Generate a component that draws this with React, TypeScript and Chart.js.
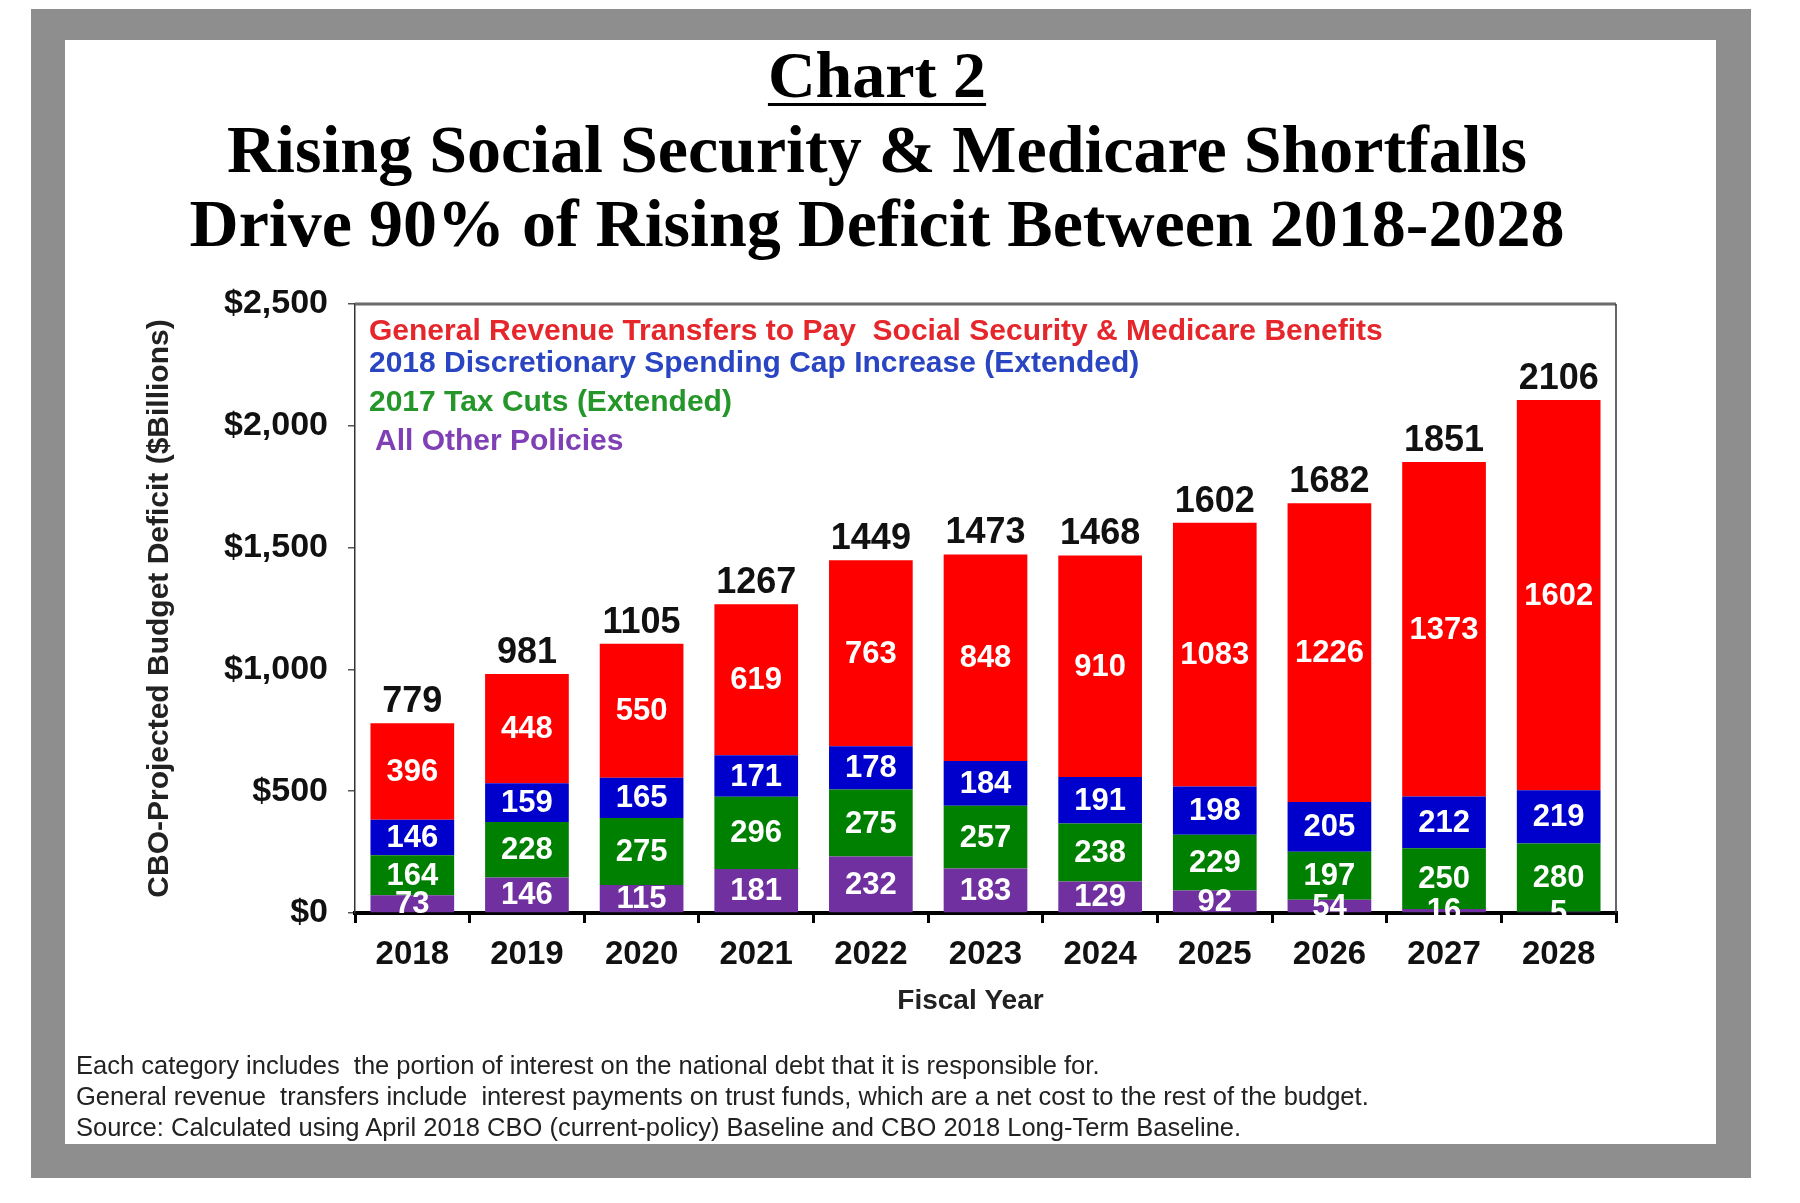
import React, { useEffect, useRef } from "react";
import { Chart, ChartConfiguration, registerables } from "chart.js";

Chart.register(...registerables);

const years = ["2018", "2019", "2020", "2021", "2022", "2023", "2024", "2025", "2026", "2027", "2028"];
const otherPolicies = [73, 146, 115, 181, 232, 183, 129, 92, 54, 16, 5];
const taxCuts = [164, 228, 275, 296, 275, 257, 238, 229, 197, 250, 280];
const capIncrease = [146, 159, 165, 171, 178, 184, 191, 198, 205, 212, 219];
const revenueTransfers = [396, 448, 550, 619, 763, 848, 910, 1083, 1226, 1373, 1602];
const totals = [779, 981, 1105, 1267, 1449, 1473, 1468, 1602, 1682, 1851, 2106];
const yTickLabels = ["$0", "$500", "$1,000", "$1,500", "$2,000", "$2,500"];

const legendLines = [
  { text: "General Revenue Transfers to Pay  Social Security & Medicare Benefits", color: "#e5262b", dy: 28, dx: 14 },
  { text: "2018 Discretionary Spending Cap Increase (Extended)", color: "#2a45c2", dy: 60, dx: 14 },
  { text: "2017 Tax Cuts (Extended)", color: "#25962a", dy: 99, dx: 14 },
  { text: "All Other Policies", color: "#7f40b5", dy: 138, dx: 20 },
];

const SANS = '"Liberation Sans", Arial, sans-serif';

// white numbers inside each segment, black totals on top
const valueLabels = {
  id: "valueLabels",
  afterDatasetsDraw(chart: Chart) {
    const ctx = chart.ctx;
    ctx.save();
    ctx.textAlign = "center";
    ctx.textBaseline = "middle";
    ctx.font = `bold 31px ${SANS}`;
    ctx.fillStyle = "#ffffff";
    chart.data.datasets.forEach((ds, i) => {
      const meta = chart.getDatasetMeta(i);
      meta.data.forEach((bar: any, j) => {
        const p = bar.getProps(["x", "y", "base"], true);
        ctx.fillText(String(ds.data[j]), p.x, (p.y + p.base) / 2 + 1);
      });
    });
    const last = chart.getDatasetMeta(chart.data.datasets.length - 1);
    ctx.font = `bold 36px ${SANS}`;
    ctx.fillStyle = "#111111";
    ctx.textBaseline = "bottom";
    last.data.forEach((bar: any, j) => {
      const p = bar.getProps(["x", "y"], true);
      ctx.fillText(String(totals[j]), p.x, p.y - 3);
    });
    ctx.restore();
  },
};

// frame round the plot, the text legend in its top-left corner, and the x title
const frameAndLegend = {
  id: "frameAndLegend",
  beforeDatasetsDraw(chart: Chart) {
    const { ctx, chartArea } = chart;
    ctx.save();
    ctx.strokeStyle = "#6b6b6b";
    ctx.lineWidth = 3;
    ctx.beginPath();
    ctx.moveTo(chartArea.left, chartArea.top);
    ctx.lineTo(chartArea.right, chartArea.top);
    ctx.stroke();
    ctx.strokeStyle = "#333333";
    ctx.lineWidth = 1.5;
    ctx.beginPath();
    ctx.moveTo(chartArea.right, chartArea.top);
    ctx.lineTo(chartArea.right, chartArea.bottom);
    ctx.stroke();
    ctx.restore();
  },
  afterDraw(chart: Chart) {
    const { ctx, chartArea } = chart;
    ctx.save();
    ctx.font = `bold 30px ${SANS}`;
    ctx.textAlign = "left";
    ctx.textBaseline = "middle";
    legendLines.forEach((l) => {
      ctx.fillStyle = l.color;
      ctx.fillText(l.text, chartArea.left + l.dx, chartArea.top + l.dy);
    });
    ctx.font = `bold 28px ${SANS}`;
    ctx.fillStyle = "#222222";
    ctx.textAlign = "center";
    ctx.fillText("Fiscal Year", (chartArea.left + chartArea.right) / 2 - 15, chartArea.bottom + 88);
    ctx.restore();
  },
};

const config: ChartConfiguration = {
  type: "bar",
  data: {
    labels: years,
    datasets: [
      { label: "All Other Policies", data: otherPolicies, backgroundColor: "#7030a0" },
      { label: "2017 Tax Cuts (Extended)", data: taxCuts, backgroundColor: "#008000" },
      { label: "2018 Discretionary Spending Cap Increase (Extended)", data: capIncrease, backgroundColor: "#0000cc" },
      { label: "General Revenue Transfers", data: revenueTransfers, backgroundColor: "#ff0000" },
    ],
  },
  options: {
    responsive: false,
    animation: false,
    devicePixelRatio: 1,
    datasets: {
      bar: { barPercentage: 0.73, categoryPercentage: 1.0 },
    },
    layout: {
      padding: { left: 140, right: 184, top: 304, bottom: 185 },
    },
    plugins: {
      legend: { display: false },
      tooltip: { enabled: false },
      title: { display: false },
    },
    scales: {
      x: {
        stacked: true,
        z: 1,
        afterFit: (scale: any) => {
          scale.height = 105;
        },
        border: { display: true, color: "#000000", width: 4 },
        grid: {
          display: true,
          drawOnChartArea: false,
          offset: true,
          tickLength: 10,
          color: "#000000",
          lineWidth: 3,
        },
        ticks: {
          color: "#111111",
          padding: 12,
          font: { family: SANS, size: 33, weight: "bold" },
        },
      },
      y: {
        stacked: true,
        min: 0,
        max: 2500,
        afterFit: (scale: any) => {
          scale.width = 215;
        },
        border: { display: true, color: "#333333", width: 1.5 },
        grid: {
          display: true,
          drawOnChartArea: false,
          tickLength: 7,
          color: "#555555",
          lineWidth: 1.5,
        },
        ticks: {
          stepSize: 500,
          color: "#111111",
          padding: 20,
          font: { family: SANS, size: 34, weight: "bold" },
          callback: (v: any) => yTickLabels[Math.round(Number(v) / 500)],
        },
        title: {
          display: true,
          text: "CBO-Projected Budget Deficit ($Billions)",
          color: "#222222",
          padding: { top: 2, bottom: 0 },
          font: { family: SANS, size: 30, weight: "bold" },
        },
      },
    },
  },
  plugins: [valueLabels, frameAndLegend],
};

const serif = '"Liberation Serif", "Times New Roman", serif';
const notes = [
  "Each category includes  the portion of interest on the national debt that it is responsible for.",
  "General revenue  transfers include  interest payments on trust funds, which are a net cost to the rest of the budget.",
  "Source: Calculated using April 2018 CBO (current-policy) Baseline and CBO 2018 Long-Term Baseline.",
];

export default function App() {
  const chartRef = useRef<HTMLCanvasElement | null>(null);

  useEffect(() => {
    document.body.style.margin = "0";
    if (!chartRef.current) {
      return;
    }
    const chartInstance = new Chart(chartRef.current, config);
    return () => {
      chartInstance.destroy();
    };
  }, [chartRef]);

  const titleLine: React.CSSProperties = {
    position: "absolute",
    left: 0,
    width: 1754,
    textAlign: "center",
    fontFamily: serif,
    fontWeight: "bold",
    color: "#000",
    whiteSpace: "pre",
  };

  return (
    <div style={{ position: "absolute", left: 0, top: 0, width: 1800, height: 1203, background: "#ffffff", overflow: "hidden" }}>
      <div style={{ position: "absolute", left: 31, top: 9, width: 1720, height: 1169, background: "#8e8e8e" }} />
      <div style={{ position: "absolute", left: 65, top: 40, width: 1651, height: 1104, background: "#ffffff" }} />
      <div style={{ ...titleLine, top: 42, fontSize: 66, lineHeight: "66px" }}>
        <span style={{ textDecoration: "underline", textDecorationThickness: 3, textUnderlineOffset: 6 }}>Chart 2</span>
      </div>
      <div style={{ ...titleLine, top: 115, fontSize: 68, lineHeight: "68px" }}>
        Rising Social Security &amp; Medicare Shortfalls
      </div>
      <div style={{ ...titleLine, top: 189, fontSize: 68, lineHeight: "68px" }}>
        {"Drive 90% of Rising Deficit Between 2018-2028"}
      </div>
      <canvas
        ref={chartRef}
        width={1800}
        height={1203}
        style={{ position: "absolute", left: 0, top: 0, width: 1800, height: 1203 }}
      ></canvas>
      {notes.map((n, i) => (
        <div
          key={i}
          style={{
            position: "absolute",
            left: 76,
            top: 1050 + i * 31,
            fontFamily: SANS,
            fontSize: 25.5,
            lineHeight: "31px",
            color: "#222",
            whiteSpace: "pre",
          }}
        >
          {n}
        </div>
      ))}
    </div>
  );
}
